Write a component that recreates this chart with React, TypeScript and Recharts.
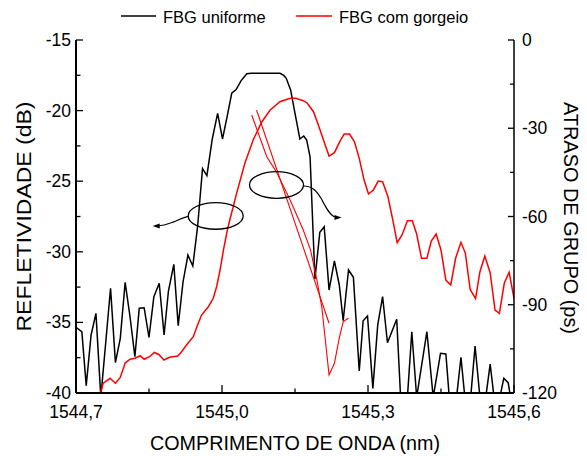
import React from 'react';
import { LineChart, Line, XAxis, YAxis, ReferenceDot } from 'recharts';

const FONT = '"Liberation Sans", Arial, Helvetica, sans-serif';

// FBG uniforme (reflectivity, dB)
const uniformWavelength = [
  1544.700, 1544.712, 1544.721, 1544.731, 1544.741, 1544.751, 1544.761, 1544.771, 1544.781, 1544.791,
  1544.801, 1544.811, 1544.821, 1544.830, 1544.840, 1544.850, 1544.860, 1544.871, 1544.881, 1544.890,
  1544.901, 1544.910, 1544.920, 1544.930, 1544.940, 1544.950, 1544.960, 1544.969, 1544.980, 1544.991,
  1545.001, 1545.010, 1545.020, 1545.029, 1545.039, 1545.051, 1545.060, 1545.080, 1545.100, 1545.119,
  1545.127, 1545.132, 1545.141, 1545.150, 1545.160, 1545.168, 1545.174, 1545.181, 1545.191, 1545.201,
  1545.210, 1545.220, 1545.231, 1545.241, 1545.249, 1545.260, 1545.270, 1545.282, 1545.290, 1545.299,
  1545.310, 1545.320, 1545.330, 1545.340, 1545.359, 1545.367, 1545.381, 1545.390, 1545.400, 1545.421,
  1545.434, 1545.449, 1545.460, 1545.467, 1545.482, 1545.491, 1545.499, 1545.511, 1545.520, 1545.530,
  1545.542, 1545.551, 1545.559, 1545.571, 1545.579, 1545.588, 1545.593, 1545.600,
];
const uniformReflectivity = [
  -35.35, -35.66, -39.48, -35.89, -34.36, -40.3, -36.46, -32.58, -37.85, -36.13,
  -32.16, -34.6, -37.43, -34.0, -33.96, -36.06, -33.18, -32.23, -35.89, -32.76,
  -30.89, -35.23, -32.12, -30.23, -31.01, -28.17, -24.1, -24.6, -22.01, -20.19,
  -22.01, -20.51, -18.77, -18.51, -17.89, -17.39, -17.36, -17.36, -17.36, -17.36,
  -17.51, -17.71, -18.54, -20.19, -22.01, -21.8, -22.08, -23.29, -31.93, -28.62,
  -28.22, -32.71, -30.65, -32.35, -34.88, -31.29, -31.81, -38.44, -34.88, -34.55,
  -39.67, -35.18, -33.18, -36.44, -34.78, -40.3, -40.3, -35.66, -40.3, -35.66,
  -40.3, -37.19, -37.24, -40.3, -40.3, -37.47, -40.3, -40.3, -36.67, -40.3,
  -40.3, -37.95, -40.3, -40.3, -38.96, -39.27, -40.3, -40.3,
];

// FBG com gorgeio (reflectivity, dB)
const chirpedWavelength = [
  1544.750, 1544.756, 1544.770, 1544.781, 1544.791, 1544.801, 1544.811, 1544.821, 1544.832, 1544.840,
  1544.851, 1544.861, 1544.870, 1544.881, 1544.892, 1544.909, 1544.917, 1544.927, 1544.941, 1544.949,
  1544.958, 1544.972, 1544.982, 1544.989, 1544.996, 1545.003, 1545.011, 1545.016, 1545.030, 1545.047,
  1545.064, 1545.082, 1545.099, 1545.119, 1545.140, 1545.152, 1545.167, 1545.175, 1545.188, 1545.198,
  1545.212, 1545.220, 1545.231, 1545.242, 1545.251, 1545.262, 1545.272, 1545.282, 1545.292, 1545.301,
  1545.311, 1545.321, 1545.330, 1545.341, 1545.351, 1545.360, 1545.370, 1545.381, 1545.391, 1545.400,
  1545.410, 1545.421, 1545.430, 1545.440, 1545.450, 1545.460, 1545.470, 1545.480, 1545.491, 1545.500,
  1545.510, 1545.521, 1545.530, 1545.540, 1545.551, 1545.561, 1545.570, 1545.580, 1545.590, 1545.600,
];
const chirpedReflectivity = [
  -40.0, -39.31, -38.96, -39.31, -38.9, -37.88, -37.61, -37.54, -37.36, -37.61,
  -37.43, -37.13, -37.27, -37.66, -37.47, -37.38, -37.08, -36.6, -36.01, -35.25,
  -34.48, -33.89, -33.29, -32.47, -31.29, -29.87, -28.46, -27.75, -25.86, -23.73,
  -22.08, -20.79, -19.96, -19.37, -19.13, -19.13, -19.3, -19.46, -20.08, -21.02,
  -22.44, -23.22, -22.98, -22.2, -21.66, -21.66, -22.2, -23.38, -24.92, -25.91,
  -25.62, -24.99, -25.04, -26.1, -27.75, -29.36, -28.81, -27.8, -27.8, -28.74,
  -30.46, -30.46, -29.24, -28.74, -29.87, -32.0, -32.35, -30.46, -29.33, -30.09,
  -32.67, -33.31, -31.41, -30.3, -31.48, -34.12, -34.36, -32.23, -31.45, -33.29,
];

// Group delay of the chirped FBG (ps) and linear fit
const delayWavelength = [1545.061, 1545.092, 1545.112, 1545.140, 1545.167, 1545.182, 1545.195, 1545.205, 1545.220, 1545.231, 1545.241, 1545.249, 1545.260];
const delayPs = [-25.5, -39.7, -44.9, -54.4, -64.6, -71.4, -81.6, -90.7, -113.9, -109.9, -101.3, -95.8, -94.5];
const fitWavelength = [1545.071, 1545.220];
const fitPs = [-23.8, -96.3];

// Annotation ellipse centres (wavelength, dB)
const leftMarker = { x: 1544.987, y: -27.46 };
const rightMarker = { x: 1545.112, y: -25.27 };

// Ticks
const xTicks = [1544.7, 1544.85, 1545.0, 1545.15, 1545.3, 1545.45, 1545.6];
const xTickLabels = ['1544,7', '', '1545,0', '', '1545,3', '', '1545,6'];
const leftTicks = [-40, -37.5, -35, -32.5, -30, -27.5, -25, -22.5, -20, -17.5, -15];
const leftTickLabels = ['-40', '', '-35', '', '-30', '', '-25', '', '-20', '', '-15'];
const rightTicks = [-120, -105, -90, -75, -60, -45, -30, -15, 0];
const rightTickLabels = ['-120', '', '-90', '', '-60', '', '-30', '', '0'];

const uniformData = uniformWavelength.map((w, i) => ({ w, v: uniformReflectivity[i] }));
const chirpedData = chirpedWavelength.map((w, i) => ({ w, v: chirpedReflectivity[i] }));
const delayData = delayWavelength.map((w, i) => ({ w, v: delayPs[i] }));
const fitData = fitWavelength.map((w, i) => ({ w, v: fitPs[i] }));

function labelFor(ticks: number[], labels: string[], v: number) {
  const i = ticks.findIndex((t) => Math.abs(t - v) < 1e-6);
  return i >= 0 ? labels[i] : '';
}

const TICK_FS = 17.5;

const BottomTick = (p: any) => {
  const { x, y, payload } = p;
  const lab = labelFor(xTicks, xTickLabels, payload.value);
  const major = lab !== '';
  return (
    <g>
      <line x1={x} x2={x} y1={y} y2={y - (major ? 8 : 4.5)} stroke="#000" strokeWidth={1.3} />
      {major && (
        <text x={x} y={y + 19} textAnchor="middle" dominantBaseline="central" fontSize={TICK_FS} fontFamily={FONT} fill="#000">
          {lab}
        </text>
      )}
    </g>
  );
};

const TopTick = (p: any) => {
  const { x, y, payload } = p;
  const major = labelFor(xTicks, xTickLabels, payload.value) !== '';
  return <line x1={x} x2={x} y1={y} y2={y + (major ? 7 : 4)} stroke="#000" strokeWidth={1.3} />;
};

const LeftTick = (p: any) => {
  const { x, y, payload } = p;
  const lab = labelFor(leftTicks, leftTickLabels, payload.value);
  const major = lab !== '';
  return (
    <g>
      <line x1={x} x2={x + (major ? 7 : 4.5)} y1={y} y2={y} stroke="#000" strokeWidth={1.3} />
      {major && (
        <text x={x - 5} y={y} textAnchor="end" dominantBaseline="central" fontSize={TICK_FS} fontFamily={FONT} fill="#000">
          {lab}
        </text>
      )}
    </g>
  );
};

const RightTick = (p: any) => {
  const { x, y, payload } = p;
  const lab = labelFor(rightTicks, rightTickLabels, payload.value);
  const major = lab !== '';
  return (
    <g>
      <line x1={x} x2={x - (major ? 6 : 4)} y1={y} y2={y} stroke="#000" strokeWidth={1.3} />
      {major && (
        <text x={x + 8} y={y} textAnchor="start" dominantBaseline="central" fontSize={TICK_FS} fontFamily={FONT} fill="#000">
          {lab}
        </text>
      )}
    </g>
  );
};

const TITLE_FS = 21;

const LeftTitle = () => (
  <text x={15} y={208.5} transform="rotate(-90 15 208.5)" textAnchor="middle" dominantBaseline="central"
    fontSize={TITLE_FS} fontFamily={FONT} fill="#000" textLength={230} lengthAdjust="spacingAndGlyphs">
    REFLETIVIDADE (dB)
  </text>
);

const RightTitle = () => (
  <text x={563} y={210} transform="rotate(90 563 210)" textAnchor="middle" dominantBaseline="central"
    fontSize={TITLE_FS} fontFamily={FONT} fill="#000" textLength={232} lengthAdjust="spacingAndGlyphs">
    ATRASO DE GRUPO (ps)
  </text>
);

const BottomTitle = () => (
  <text x={287} y={434} textAnchor="middle" dominantBaseline="central"
    fontSize={TITLE_FS} fontFamily={FONT} fill="#000" textLength={290} lengthAdjust="spacingAndGlyphs">
    COMPRIMENTO DE ONDA (nm)
  </text>
);

const LeftMark = (p: any) => {
  const { cx, cy } = p;
  return (
    <g>
      <ellipse cx={cx} cy={cy} rx={27.5} ry={13.3} fill="none" stroke="#000" strokeWidth={1.3} />
      <path
        d={`M ${cx - 27.5} ${cy + 0.7} C ${cx - 33} ${cy + 1} ${cx - 40} ${cy + 6} ${cx - 46} ${cy + 7.3} C ${cx - 50} ${cy + 9} ${cx - 54} ${cy + 9.7} ${cx - 57} ${cy + 9.8}`}
        fill="none" stroke="#000" strokeWidth={1.2}
      />
      <polygon points={`${cx - 63},${cy + 10} ${cx - 56},${cy + 7.5} ${cx - 56},${cy + 12.5}`} fill="#000" />
    </g>
  );
};

const RightMark = (p: any) => {
  const { cx, cy } = p;
  return (
    <g>
      <ellipse cx={cx} cy={cy} rx={27} ry={13.3} fill="none" stroke="#000" strokeWidth={1.3} />
      <path
        d={`M ${cx + 27} ${cy + 1} C ${cx + 36} ${cy + 1} ${cx + 40} ${cy + 6} ${cx + 45} ${cy + 14} C ${cx + 50} ${cy + 24} ${cx + 54} ${cy + 31} ${cx + 59} ${cy + 32}`}
        fill="none" stroke="#000" strokeWidth={1.2}
      />
      <polygon points={`${cx + 65},${cy + 32.5} ${cx + 58},${cy + 30} ${cx + 58},${cy + 35}`} fill="#000" />
    </g>
  );
};

export default function App() {
  return (
    <div style={{ position: 'relative', width: 579, height: 448, fontFamily: FONT }}>
      <LineChart width={579} height={448} margin={{ top: 32, right: 0, bottom: 0, left: 0 }}>
        <XAxis
          xAxisId="x" dataKey="w" type="number" domain={[1544.7, 1545.6]} ticks={xTicks} interval={0}
          allowDataOverflow height={63} tickSize={0} tickMargin={0} tickLine={false}
          axisLine={{ stroke: '#000', strokeWidth: 2 }} tick={<BottomTick />} label={<BottomTitle />}
        />
        <XAxis
          xAxisId="top" orientation="top" dataKey="w" type="number" domain={[1544.7, 1545.6]} ticks={xTicks}
          interval={0} allowDataOverflow height={0} tickSize={0} tickMargin={0} tickLine={false}
          axisLine={{ stroke: '#000', strokeWidth: 1.5 }} tick={<TopTick />}
        />
        <YAxis
          yAxisId="left" type="number" domain={[-40, -15]} ticks={leftTicks} interval={0} allowDataOverflow
          width={68} tickSize={0} tickMargin={0} tickLine={false}
          axisLine={{ stroke: '#000', strokeWidth: 2 }} tick={<LeftTick />} label={<LeftTitle />}
        />
        <YAxis
          yAxisId="right" orientation="right" type="number" domain={[-120, 0]} ticks={rightTicks} interval={0}
          allowDataOverflow width={73} tickSize={0} tickMargin={0} tickLine={false}
          axisLine={{ stroke: '#000', strokeWidth: 1.5 }} tick={<RightTick />} label={<RightTitle />}
        />
        <Line xAxisId="x" yAxisId="left" data={uniformData} dataKey="v" type="linear" stroke="#000000"
          strokeWidth={1.5} dot={false} activeDot={false} isAnimationActive={false} />
        <Line xAxisId="x" yAxisId="left" data={chirpedData} dataKey="v" type="linear" stroke="#ff0000"
          strokeWidth={1.5} dot={false} activeDot={false} isAnimationActive={false} />
        <Line xAxisId="x" yAxisId="right" data={delayData} dataKey="v" type="linear" stroke="#ff0000"
          strokeWidth={1.1} dot={false} activeDot={false} isAnimationActive={false} />
        <Line xAxisId="x" yAxisId="right" data={fitData} dataKey="v" type="linear" stroke="#ff0000"
          strokeWidth={1.1} dot={false} activeDot={false} isAnimationActive={false} />
        <ReferenceDot xAxisId="x" yAxisId="left" x={leftMarker.x} y={leftMarker.y} r={0} shape={LeftMark} />
        <ReferenceDot xAxisId="x" yAxisId="left" x={rightMarker.x} y={rightMarker.y} r={0} shape={RightMark} />
      </LineChart>
      <svg width={579} height={30} style={{ position: 'absolute', left: 0, top: 0, pointerEvents: 'none' }}>
        <line x1={113} x2={148} y1={8} y2={8} stroke="#000" strokeWidth={1.5} />
        <text x={155} y={9} dominantBaseline="central" fontSize={16.5} fontFamily={FONT} fill="#000">FBG uniforme</text>
        <line x1={288} x2={324} y1={8} y2={8} stroke="#ff0000" strokeWidth={1.5} />
        <text x={331} y={9} dominantBaseline="central" fontSize={16.5} fontFamily={FONT} fill="#000">FBG com gorgeio</text>
      </svg>
    </div>
  );
}
